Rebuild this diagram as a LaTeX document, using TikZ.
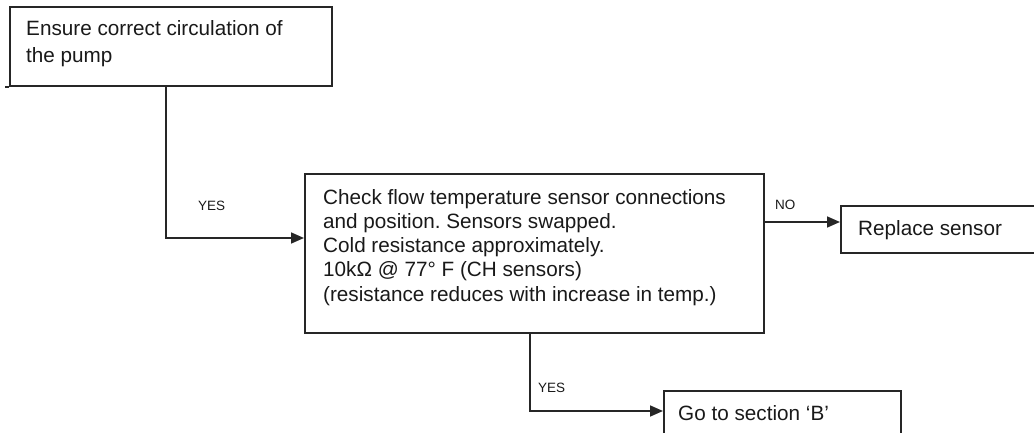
\documentclass[tikz,border=0pt]{standalone}
\usepackage{fontspec}
\setmainfont{Liberation Sans}
\usetikzlibrary{arrows.meta}
\frenchspacing
\tikzset{
  boxshape/.style={draw=black!85, line width=1.8pt, rectangle, inner sep=0pt, anchor=north west},
  txt/.style={inner sep=0pt, anchor=north west, align=left, font=\fontsize{20.7}{24.2}\selectfont, text=black!90},
  txtone/.style={inner sep=0pt, anchor=base west, font=\fontsize{20.7}{24.2}\selectfont, text=black!90},
  lbl/.style={inner sep=0pt, anchor=base west, font=\fontsize{13.5}{16}\selectfont, text=black!90},
  conn/.style={draw=black!85, line width=1.6pt},
  arr/.style={conn, -{Triangle[length=13pt,width=11pt]}}
}
\begin{document}
\begin{tikzpicture}[x=1pt,y=-1pt]
\useasboundingbox (0,0) rectangle (1034,433);
\clip (0,0) rectangle (1034,433);
% boxes
\node[boxshape, minimum width=322pt, minimum height=79pt] (b1) at (9,6) {};
\node[boxshape, minimum width=459pt, minimum height=159pt] (b2) at (304,173) {};
\node[boxshape, minimum width=220pt, minimum height=47pt] (b3) at (840,205) {};
\node[boxshape, minimum width=237pt, minimum height=60pt] (b4) at (663,390) {};
\draw[conn] (b1.south west) -- ++(-4,0);
% texts
\node[txt, font=\fontsize{20.7}{27}\selectfont] (t1) at (26,20) {Ensure correct circulation of\\the pump};
\node[txt] (t2) at (323,189) {Check flow temperature sensor connections\\and position. Sensors swapped.\\Cold resistance approximately.\\10kΩ @ 77° F (CH sensors)\\(resistance reduces with increase in temp.)};
\node[txtone] (t3) at (858,235.5) {Replace sensor};
\node[txtone] (t4) at (678,420.5) {Go to section ‘B’};
% labels
\node[lbl] (l1) at (198,211) {YES};
\node[lbl] (l2) at (775,209) {NO};
\node[lbl] (l3) at (538,392) {YES};
% connectors
\coordinate (j1) at (166,238);
\draw[arr] (b1.south -| j1) -- (j1) -- (b2.west |- j1);
\coordinate (j2) at (763,222);
\draw[arr] (b2.east |- j2) -- (b3.west |- j2);
\coordinate (j3) at (530,411);
\draw[arr] (b2.south -| j3) -- (j3) -- (b4.west |- j3);
\end{tikzpicture}
\end{document}
